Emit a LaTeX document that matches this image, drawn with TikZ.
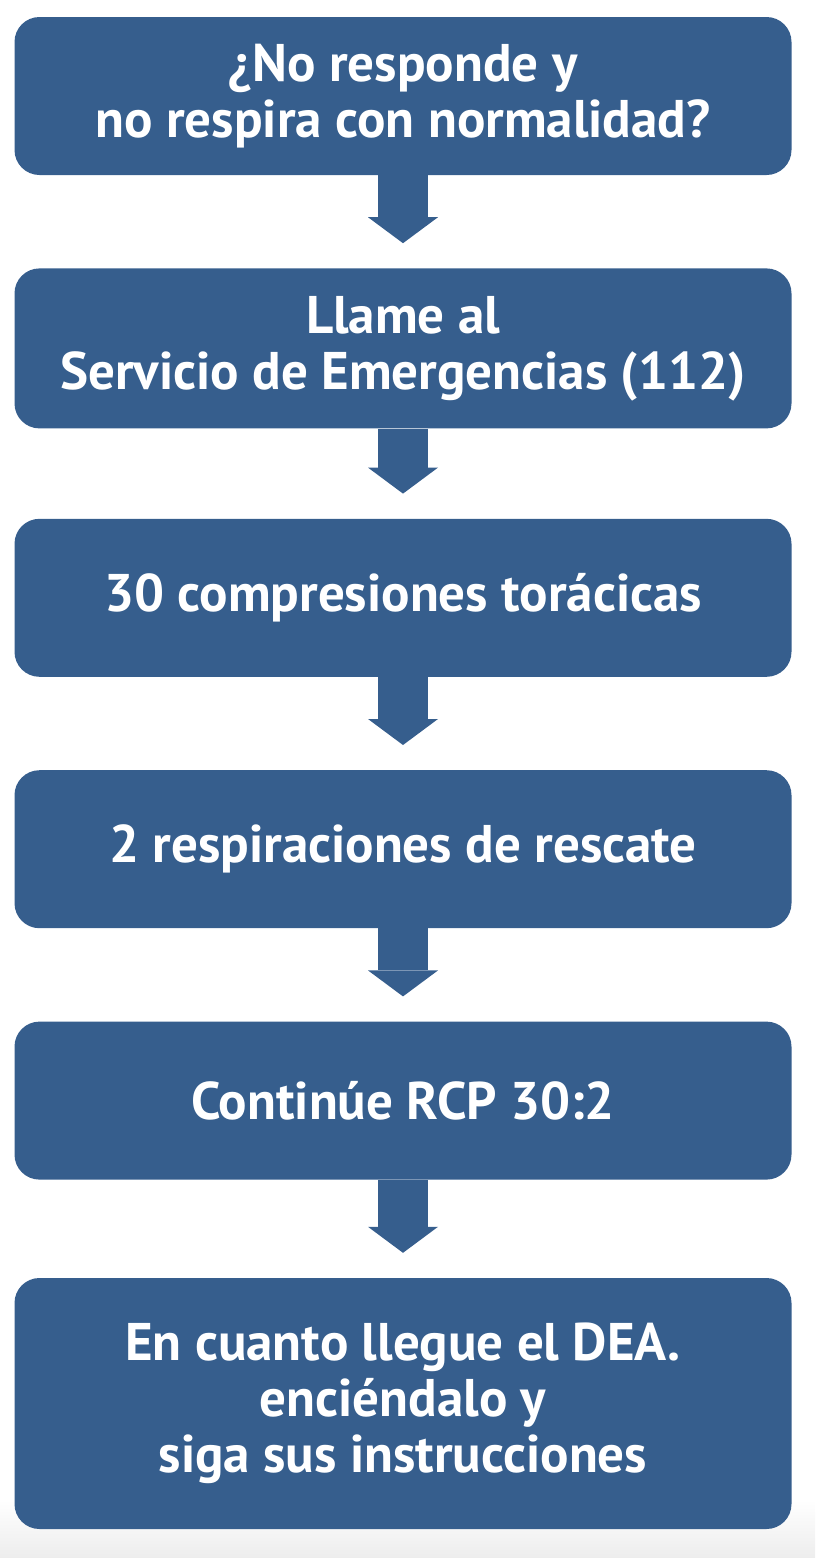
\documentclass[tikz,border=0pt]{standalone}
\usepackage{fontspec}
\setmainfont{PT Sans}
\usepackage{tikz}
\usetikzlibrary{positioning,arrows.meta}
\definecolor{boxblue}{HTML}{365E8D}
\definecolor{stripgray}{HTML}{EDEDED}
\tikzset{
  stepbox/.style={draw=none, fill=boxblue, rounded corners=25pt, align=center, text=white, font=\fontsize{53}{56}\selectfont\bfseries, minimum width=777pt, minimum height=158pt, inner sep=0pt},
  bigarrow/.style={draw=boxblue, line width=50pt, -{Triangle[length=26pt, width=70pt, line width=0pt]}, shorten >=25pt}
}
\begin{document}
\begin{tikzpicture}[x=1pt, y=-1pt, node distance=93pt]
  \useasboundingbox (0,0) rectangle (815,1558);
  \shade[top color=white, bottom color=stripgray] (0,1500) rectangle (815,1558);
  \node[stepbox] (check) at (403,96) {¿No responde y\\no respira con normalidad?};
  \node[stepbox, below=of check, minimum height=160pt] (call) {Llame al\\Servicio de Emergencias (112)};
  \node[stepbox, below=90pt of call] (press) {30 compresiones torácicas};
  \node[stepbox, below=of press] (breath) {2 respiraciones de rescate};
  \node[stepbox, below=of breath] (cycle) {Continúe RCP 30:2};
  \node[stepbox, below=98pt of cycle, minimum height=251pt] (aed) {En cuanto llegue el DEA.\\enciéndalo y\\siga sus instrucciones};
  \draw[bigarrow] (check) -- (call);
  \draw[bigarrow] (call) -- (press);
  \draw[bigarrow] (press) -- (breath);
  \draw[bigarrow] (breath) -- (cycle);
  \draw[bigarrow] (cycle) -- (aed);
\end{tikzpicture}
\end{document}
